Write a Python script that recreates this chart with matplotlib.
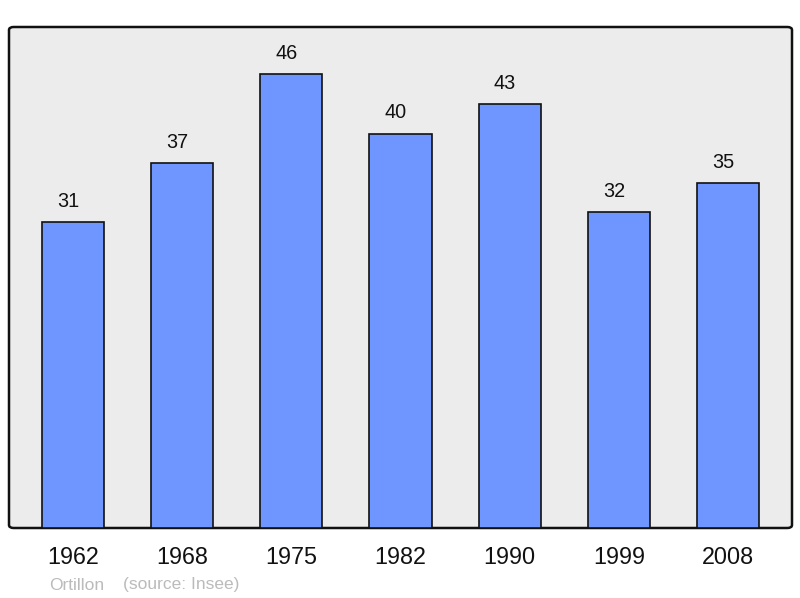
import matplotlib
matplotlib.use("Agg")
import matplotlib.pyplot as plt
from matplotlib.patches import FancyBboxPatch

years = ["1962", "1968", "1975", "1982", "1990", "1999", "2008"]
population = [31, 37, 46, 40, 43, 32, 35]

plt.rcParams['font.family'] = ['Liberation Sans', 'DejaVu Sans']

fig = plt.figure(figsize=(8, 5.98), dpi=100)
W, H = 800, 598
ax = fig.add_axes([9 / W, 70 / H, 783 / W, 501 / H])
ax.set_facecolor('none')
ax.set_xlim(-0.585, 6.585)
ax.set_ylim(0, 50.8)

# background frame with slightly rounded corners
frame = FancyBboxPatch((0, 0), 1, 1,
                       boxstyle="round,pad=0,rounding_size=0.006",
                       transform=ax.transAxes, facecolor='#ececec',
                       edgecolor='#111111', linewidth=1.8, zorder=0, clip_on=False)
ax.add_patch(frame)

x = list(range(len(years)))
ax.bar(x, population, width=0.57, color='#6f96ff', edgecolor='#111111',
       linewidth=1.2, zorder=2)
for xi, v in zip(x, population):
    ax.annotate(str(v), (xi, v), xytext=(-3.5, 8), textcoords='offset points',
                ha='center', va='bottom', fontsize=14.3, color='#111111')

for s in ax.spines.values():
    s.set_visible(False)
ax.set_yticks([])
ax.set_xticks(x)
ax.set_xticklabels(years, fontsize=16.8, color='#111111')
ax.tick_params(axis='x', length=0, pad=13)

fig.text(49 / W, 1 - 585 / H, "Ortillon", fontsize=12.5, color='#bbbbbb', va='center')
fig.text(123 / W, 1 - 585 / H, "(source: Insee)", fontsize=12.5, color='#bbbbbb', va='center')

fig.savefig("out.png", dpi=100)
